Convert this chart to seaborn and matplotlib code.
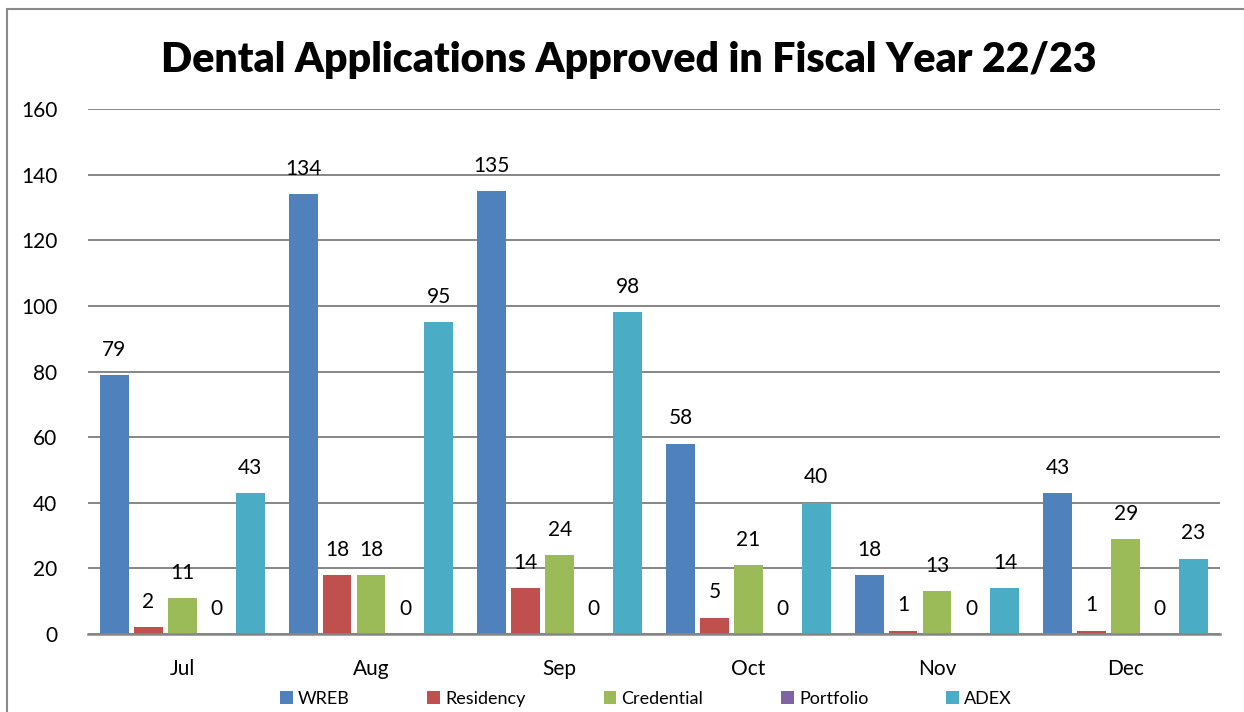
import matplotlib
matplotlib.use("Agg")
import matplotlib.pyplot as plt
from matplotlib.patches import Rectangle
import seaborn as sns
import pandas as pd

# Monthly approvals by application type
months = ["Jul", "Aug", "Sep", "Oct", "Nov", "Dec"]
series = ["WREB", "Residency", "Credential", "Portfolio", "ADEX"]
wreb = [79, 134, 135, 58, 18, 43]
residency = [2, 18, 14, 5, 1, 1]
credential = [11, 18, 24, 21, 13, 29]
portfolio = [0, 0, 0, 0, 0, 0]
adex = [43, 95, 98, 40, 14, 23]
colors = ["#4F81BD", "#C0504D", "#9BBB59", "#8064A2", "#4BACC6"]

values = [wreb, residency, credential, portfolio, adex]
df = pd.DataFrame(
    [(m, s, v) for s, vals in zip(series, values) for m, v in zip(months, vals)],
    columns=["Month", "Type", "Count"],
)

sns.set_theme(style="white")
plt.rcParams["font.family"] = ["Lato", "DejaVu Sans"]
plt.rcParams["text.color"] = "black"

fig = plt.figure(figsize=(12.44, 7.12), dpi=100)
ax = fig.add_axes([88 / 1244, 1 - 634 / 712, (1220 - 88) / 1244, (634 - 109) / 712])

sns.barplot(
    data=df, x="Month", y="Count", hue="Type",
    order=months, hue_order=series, palette=colors,
    width=0.9, gap=0.15, saturation=1, ax=ax, legend=True,
    edgecolor="none", linewidth=0,
)

for cont in ax.containers:
    ax.bar_label(cont, padding=11, fontsize=15, color="black")

ax.set_ylim(0, 160)
ax.set_yticks(range(0, 161, 20))
ax.set_xlim(-0.5, len(months) - 0.5)
ax.yaxis.grid(True, color="#868686", linewidth=1.4)
ax.set_axisbelow(True)
for side in ["top", "right", "left"]:
    ax.spines[side].set_visible(False)
ax.spines["bottom"].set_color("#868686")
ax.spines["bottom"].set_linewidth(1.8)
ax.tick_params(axis="both", length=0, labelsize=15, colors="black")
ax.tick_params(axis="y", pad=22)
ax.tick_params(axis="x", pad=18)
ax.set_xlabel("")
ax.set_ylabel("")

leg = ax.legend(
    loc="center", bbox_to_anchor=(646 / 1244, 1 - 699 / 712),
    bbox_transform=fig.transFigure, ncol=5, frameon=False,
    fontsize=13, handlelength=0.7, handleheight=0.7,
    handletextpad=0.3, columnspacing=4.3, borderaxespad=0,
)
for t in leg.get_texts():
    t.set_color("black")

fig.text(629 / 1244, 1 - 60 / 712, "Dental Applications Approved in Fiscal Year 22/23",
         ha="center", va="center", fontsize=29.5, fontweight="heavy", color="black")

# chart frame
fig.patches.append(Rectangle((7 / 1244, -0.2), 1.2, 1.2 - 9 / 712,
                             transform=fig.transFigure, fill=False,
                             edgecolor="#8a8a8a", linewidth=1.5))

fig.savefig("out.png", dpi=100)
